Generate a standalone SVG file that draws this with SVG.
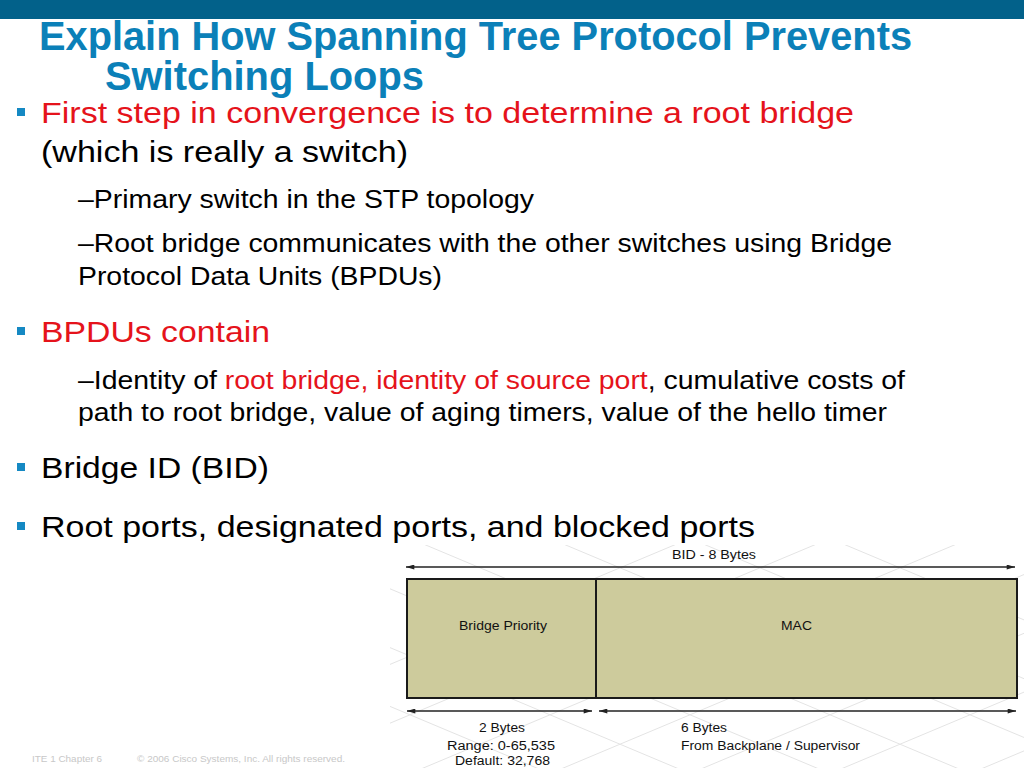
<svg xmlns="http://www.w3.org/2000/svg" width="1024" height="768" viewBox="0 0 1024 768">
<defs>
<style>
.title{font-family:"Liberation Sans Narrow","Liberation Sans",Arial,sans-serif;font-weight:bold;font-size:40px;fill:#0b80b8}
.l1{font-family:"Liberation Sans",Arial,sans-serif;font-size:30px;fill:#000}
.l2{font-family:"Liberation Sans",Arial,sans-serif;font-size:26px;fill:#000}
.red{fill:#e5131b}
.bul{fill:#1589c3}
.dg{font-family:"Liberation Sans",Arial,sans-serif;font-size:12px;fill:#111}
.foot{font-family:"Liberation Sans",Arial,sans-serif;font-size:9px;fill:#c8c8c8}
.bg{stroke:#e4e4e4;stroke-width:1;fill:none}
.box{fill:#cdcb9c;stroke:#1a1a1a;stroke-width:2}
.arr{stroke:#222;stroke-width:1.3;fill:none;marker-start:url(#ah);marker-end:url(#ah)}
</style>
<marker id="ah" viewBox="0 0 10 6" refX="10" refY="3" markerWidth="9" markerHeight="5" markerUnits="userSpaceOnUse" orient="auto-start-reverse">
<path d="M0,0 L10,3 L0,6 Z" fill="#222"/>
</marker>
<clipPath id="dclip"><rect x="390" y="545" width="634" height="223"/></clipPath>
</defs>
<rect width="1024" height="768" fill="#fff"/>
<rect x="0" y="0" width="1024" height="19" fill="#02618a"/>
<text class="title" x="39" y="50" textLength="873" lengthAdjust="spacingAndGlyphs">Explain How Spanning Tree Protocol Prevents</text>
<text class="title" x="105" y="90" textLength="319" lengthAdjust="spacingAndGlyphs">Switching Loops</text>

<rect class="bul" x="17" y="108" width="8" height="8"/>
<text class="l1 red" x="41" y="123" textLength="813" lengthAdjust="spacingAndGlyphs">First step in convergence is to determine a root bridge</text>
<text class="l1" x="41" y="162" textLength="367" lengthAdjust="spacingAndGlyphs">(which is really a switch)</text>
<text class="l2" x="78" y="208" textLength="456" lengthAdjust="spacingAndGlyphs">–Primary switch in the STP topology</text>
<text class="l2" x="78" y="252" textLength="814" lengthAdjust="spacingAndGlyphs">–Root bridge communicates with the other switches using Bridge</text>
<text class="l2" x="78" y="285" textLength="364" lengthAdjust="spacingAndGlyphs">Protocol Data Units (BPDUs)</text>

<rect class="bul" x="17" y="327" width="8" height="8"/>
<text class="l1 red" x="41" y="342" textLength="229" lengthAdjust="spacingAndGlyphs">BPDUs contain</text>
<text class="l2" x="78" y="389" textLength="827" lengthAdjust="spacingAndGlyphs">–Identity of <tspan class="red">root bridge, identity of source port</tspan>, cumulative costs of</text>
<text class="l2" x="78" y="421" textLength="809" lengthAdjust="spacingAndGlyphs">path to root bridge, value of aging timers, value of the hello timer</text>

<rect class="bul" x="17" y="463" width="8" height="8"/>
<text class="l1" x="41" y="478" textLength="228" lengthAdjust="spacingAndGlyphs">Bridge ID (BID)</text>

<rect class="bul" x="17" y="522" width="8" height="8"/>
<text class="l1" x="41" y="537" textLength="714" lengthAdjust="spacingAndGlyphs">Root ports, designated ports, and blocked ports</text>

<g id="background" clip-path="url(#dclip)">
<path class="bg" d="M250,530 L850,782 M390,530 L990,782 M530,530 L1130,782 M670,530 L1270,782 M810,530 L1410,782 M110,530 L710,782 M-30,530 L570,782"/>
<path class="bg" d="M250,782 L850,530 M390,782 L990,530 M530,782 L1130,530 M670,782 L1270,530 M810,782 L1410,530 M950,782 L1550,530 M110,782 L710,530"/>
</g>

<g id="connectors">
<line class="arr" x1="406" y1="567" x2="1015" y2="567"/>
<line class="arr" x1="407" y1="711" x2="592" y2="711"/>
<line class="arr" x1="599" y1="711" x2="1016" y2="711"/>
</g>

<text class="dg" x="672" y="559" textLength="84" lengthAdjust="spacingAndGlyphs">BID - 8 Bytes</text>

<g id="bridge-priority">
<rect class="box" x="407" y="579" width="189" height="119"/>
<text class="dg" x="459" y="630" textLength="88" lengthAdjust="spacingAndGlyphs">Bridge Priority</text>
</g>
<g id="mac">
<rect class="box" x="596" y="579" width="421" height="119"/>
<text class="dg" x="781" y="630" textLength="31" lengthAdjust="spacingAndGlyphs">MAC</text>
</g>

<text class="dg" x="479" y="732" textLength="46" lengthAdjust="spacingAndGlyphs">2 Bytes</text>
<text class="dg" x="447" y="750" textLength="108" lengthAdjust="spacingAndGlyphs">Range: 0-65,535</text>
<text class="dg" x="455" y="765" textLength="95" lengthAdjust="spacingAndGlyphs">Default: 32,768</text>
<text class="dg" x="681" y="732" textLength="46" lengthAdjust="spacingAndGlyphs">6 Bytes</text>
<text class="dg" x="681" y="750" textLength="179" lengthAdjust="spacingAndGlyphs">From Backplane / Supervisor</text>

<text class="foot" x="32" y="762" textLength="70" lengthAdjust="spacingAndGlyphs">ITE 1 Chapter 6</text>
<text class="foot" x="137" y="762" textLength="208" lengthAdjust="spacingAndGlyphs">© 2006 Cisco Systems, Inc. All rights reserved.</text>
</svg>
